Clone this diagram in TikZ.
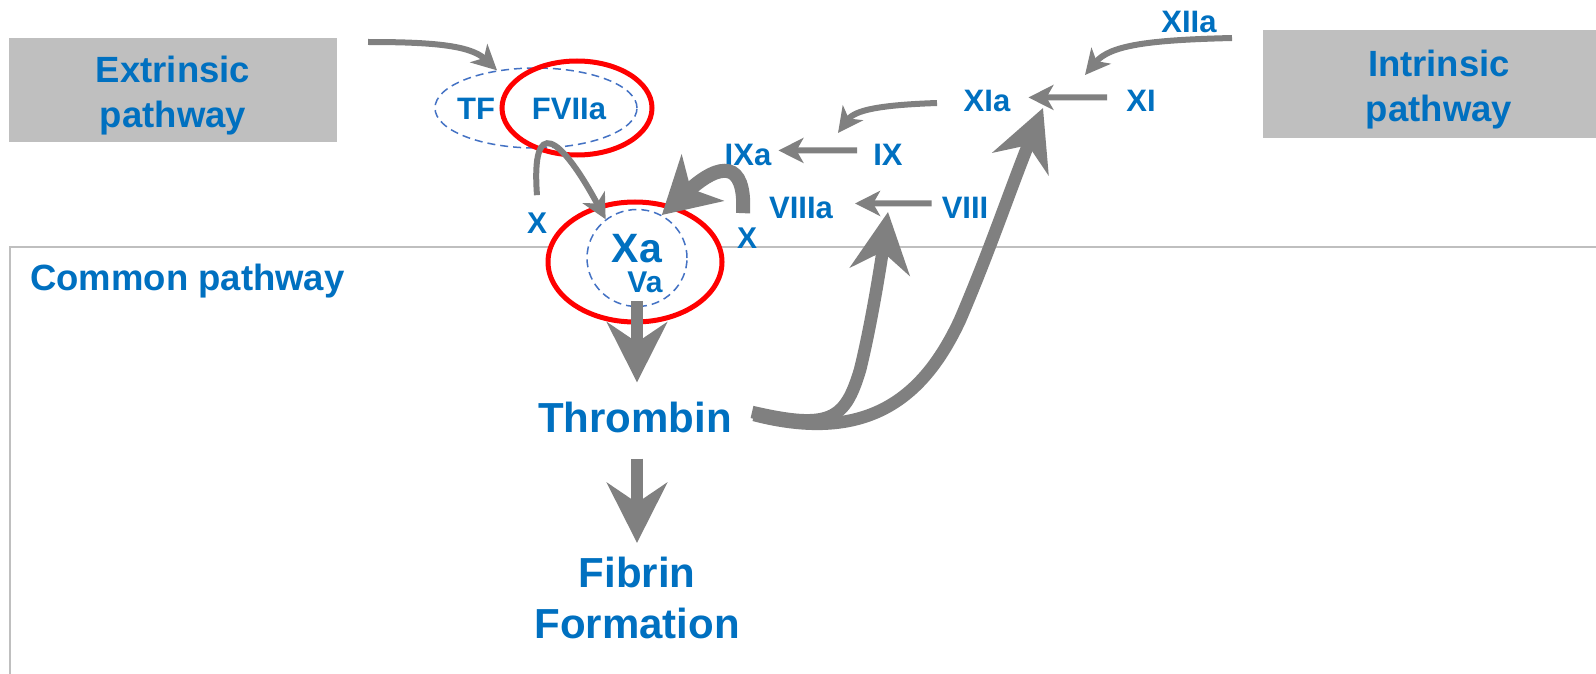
\documentclass[tikz,border=0pt]{standalone}
\usepackage{fontspec}
\setmainfont{Liberation Sans}
\usetikzlibrary{arrows.meta,shapes.geometric}
\definecolor{pblue}{HTML}{0070C0}
\definecolor{agray}{HTML}{808080}
\definecolor{bgray}{HTML}{BFBFBF}
\definecolor{dblue}{HTML}{4472C4}
\definecolor{pred}{HTML}{FF0000}
\begin{document}
\begin{tikzpicture}[x=1pt,y=-1pt,
  smalltxt/.style={text=pblue, inner sep=0pt, anchor=base, font=\bfseries\fontsize{31}{37}\selectfont},
  xtxt/.style={text=pblue, inner sep=0pt, anchor=base, font=\bfseries\fontsize{30}{36}\selectfont},
  midtxt/.style={text=pblue, inner sep=0pt, font=\bfseries\fontsize{36.5}{45}\selectfont, align=center},
  bigtxt/.style={text=pblue, inner sep=0pt, font=\bfseries\fontsize{42}{51}\selectfont, align=center},
  pbox/.style={rectangle, fill=bgray, draw=none, inner sep=0pt},
  thinarrow/.style={draw=agray, line width=6pt, -{Stealth[length=25pt,width=25pt,inset=7pt]}},
  bigarrow/.style={draw=agray, line width=12.5pt, -{Stealth[length=60pt,width=60pt,inset=20pt]}},
  hookarrow/.style={draw=agray, line width=14pt, -{Stealth[length=55pt,width=62pt,inset=16pt]}},
  redring/.style={ellipse, draw=pred, line width=5pt, inner sep=0pt},
  dashring/.style={ellipse, draw=dblue, line width=1.5pt, dash pattern=on 8pt off 5pt, inner sep=0pt},
]
\useasboundingbox (0,0) rectangle (1596,674);
\fill[white] (0,0) rectangle (1596,674);

% common pathway frame
\draw[bgray, line width=2.5pt, line join=miter] (1596,247) -- (10,247) -- (10,674);
\node[midtxt, anchor=base west] (com) at (30,290) {Common pathway};

% pathway boxes
\node[pbox, minimum width=328pt, minimum height=104pt] (extbox) at (173,90) {};
\node[midtxt, anchor=north] (ext) at (173,55.9) {Extrinsic\\pathway};
\node[pbox, minimum width=340pt, minimum height=108pt, anchor=north west] (intbox) at (1263,30) {};
\node[midtxt, anchor=north] (int) at (1439,49.9) {Intrinsic\\pathway};

% TF-FVIIa complex
\node[dashring, minimum width=202pt, minimum height=80pt] (tfring) at (536,108) {};
\node[redring, minimum width=150pt, minimum height=94pt] (f7ring) at (577,108) {};
\node[smalltxt] (TF) at (476,120) {TF};
\node[smalltxt] (F7) at (569,120) {FVIIa};

% Xa-Va complex
\node[redring, fill=white, minimum width=174pt, minimum height=120pt] (xaring) at (635,262) {};
\node[dashring, minimum width=100pt, minimum height=97pt] (vcirc) at (637,258) {};
\node[text=pblue, inner sep=0pt, anchor=base, font=\bfseries\fontsize{41}{41}\selectfont] (Xa) at (637,262) {Xa};
\node[xtxt] (Va) at (645,292) {Va};

\node[xtxt] (Xl) at (537,233) {X};
\node[xtxt] (Xr) at (747,248) {X};

\node[bigtxt, anchor=base] (Thr) at (635,432) {Thrombin};
\node[bigtxt, anchor=north] (Fib) at (637,556.9) {Fibrin\\Formation};

% intrinsic factors
\node[smalltxt] (XIIa) at (1189,33) {XIIa};
\node[smalltxt] (XIa) at (987,112) {XIa};
\node[smalltxt] (XI) at (1141,112) {XI};
\node[smalltxt] (IXa) at (748,165) {IXa};
\node[smalltxt] (IX) at (888,165) {IX};
\node[smalltxt] (VIIIa) at (801,218) {VIIIa};
\node[smalltxt] (VIII) at (965,218) {VIII};

% free ends
\coordinate (extout) at (368,42);
\coordinate (x12out) at (1232,38);
\coordinate (x11in) at (1085,75);
\coordinate (x11aout) at (937,103);
\coordinate (x9in) at (838,133);
\coordinate (thrA) at (888,212);
\coordinate (thrB) at (1043,108);

% thin arrows
\draw[thinarrow] (extout) .. controls (430,42) and (470,45) .. (tfring.136);
\draw[thinarrow] ([yshift=17pt]Xl.north) .. controls (531,115) and (560,135) .. (vcirc.129);
\draw[thinarrow] (x12out) .. controls (1150,40) and (1110,45) .. (x11in);
\draw[thinarrow, shorten <=19pt, shorten >=18pt] ([yshift=4pt]XI.west) -- ([yshift=4pt]XIa.east);
\draw[thinarrow] (x11aout) .. controls (880,105) and (855,110) .. (x9in);
\draw[thinarrow, shorten <=16pt, shorten >=7pt] ([yshift=4pt]IX.west) -- ([yshift=4pt]IXa.east);
\draw[thinarrow, shorten <=10pt, shorten >=22pt] ([yshift=4pt]VIII.west) -- ([yshift=4pt]VIIIa.east);

% thick arrows
\draw[hookarrow] ([xshift=-4pt,yshift=14pt]Xr.north) .. controls (746,160) and (720,162) .. (vcirc.60);
\draw[bigarrow, shorten >=19pt] ([yshift=6pt]vcirc.south) -- (vcirc.south |- Thr.north);
\draw[bigarrow, shorten <=26pt, shorten >=14pt] (Fib.north |- Thr.south) -- (Fib.north);
\draw[bigarrow] ([xshift=20pt,yshift=5pt]Thr.east) .. controls (830,430) and (845,420) .. (860,370) .. controls (870,330) and (880,270) .. (thrA);
\draw[bigarrow] ([xshift=22pt,yshift=2pt]Thr.east) .. controls (870,445) and (925,395) .. (960,320) .. controls (990,250) and (1010,190) .. (thrB);
\end{tikzpicture}
\end{document}
